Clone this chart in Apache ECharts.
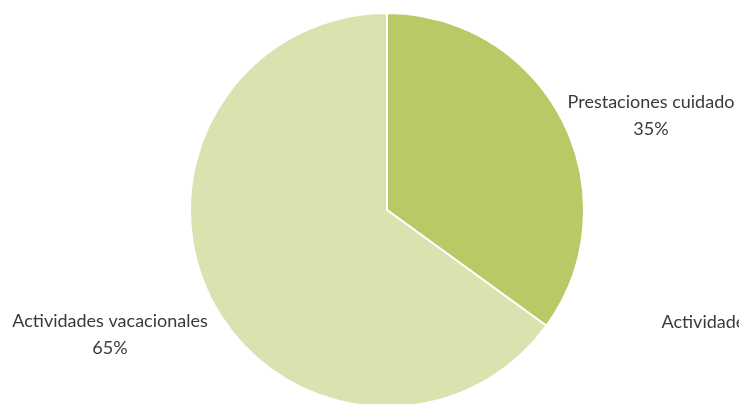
<!DOCTYPE html>
<html><head><meta charset="utf-8">
<script src="https://cdn.jsdelivr.net/npm/echarts@6/dist/echarts.min.js"></script>
<style>html,body{margin:0;padding:0;background:#fff}#c{width:739px;height:404px}</style>
</head><body><div id="c"></div>
<script>
const categories = ['Prestaciones cuidado', 'Actividades vacacionales', 'Actividades extraescolares'];
const values = [35, 65, 0];
const colors = ['#b7ca65', '#dae3af', '#8fa83a'];

const labelPos = [
  {x: 651, y: 116},
  {x: 110, y: 335},
  {x: 766, y: 336}
];

const chart = echarts.init(document.getElementById('c'));
chart.setOption({
  animation: false,
  series: [{
    type: 'pie',
    center: [387, 210],
    radius: 197,
    startAngle: 90,
    clockwise: true,
    data: categories.map((n, i) => ({name: n, value: values[i], itemStyle: {color: colors[i]}})),
    itemStyle: {borderColor: '#fff', borderWidth: 2},
    label: {
      show: true,
      position: 'outside',
      formatter: '{b}\n{d}%',
      fontFamily: 'Lato',
      fontSize: 18,
      lineHeight: 27,
      color: '#3a3a3a',
      align: 'center',
      overflow: 'none',
      width: 400
    },
    labelLine: {show: false},
    labelLayout: function (p) {
      const q = labelPos[p.dataIndex];
      return {x: q.x, y: q.y, align: 'center', verticalAlign: 'middle', hideOverlap: false};
    }
  }]
});
</script></body></html>
